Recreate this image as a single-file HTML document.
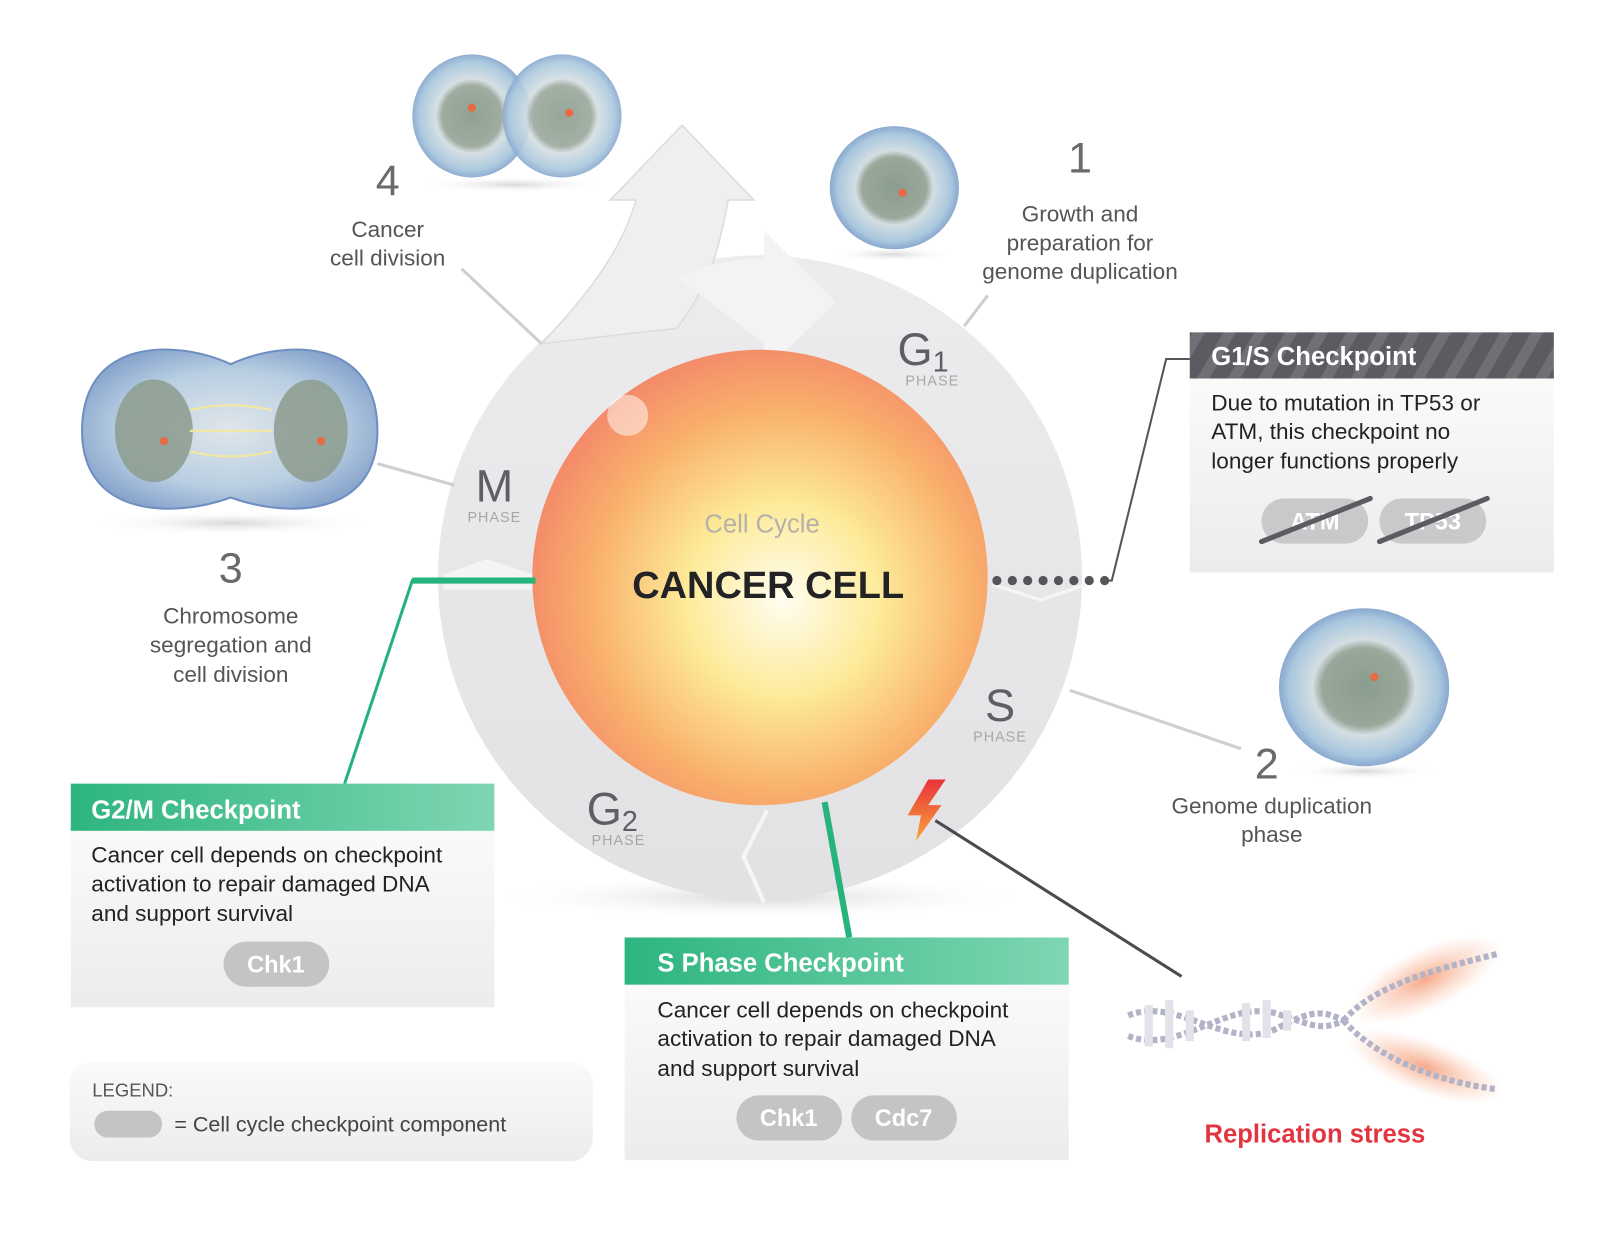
<!DOCTYPE html>
<html><head><meta charset="utf-8"><style>
html,body{margin:0;padding:0;background:#fff}
svg{display:block}
text{font-family:"Liberation Sans",sans-serif}
</style></head><body>
<svg width="1600" height="1237" viewBox="0 0 1560 1206" xmlns="http://www.w3.org/2000/svg">
<defs>
<radialGradient id="sph" cx="0.55" cy="0.55" r="0.6">
<stop offset="0" stop-color="#fffdf0"/><stop offset="0.35" stop-color="#fdeb9a"/><stop offset="0.7" stop-color="#f9b06c"/><stop offset="1" stop-color="#f28268"/></radialGradient>
<radialGradient id="cell" cx="0.5" cy="0.5" r="0.55">
<stop offset="0" stop-color="#8a9d8e"/><stop offset="0.45" stop-color="#9aa79b"/><stop offset="0.55" stop-color="#d4dee2"/><stop offset="0.8" stop-color="#a9c7de"/><stop offset="1" stop-color="#6f8fc1"/></radialGradient>
<radialGradient id="cell3" cx="0.5" cy="0.5" r="0.6">
<stop offset="0" stop-color="#e0e6ea"/><stop offset="0.6" stop-color="#b9cfe2"/><stop offset="1" stop-color="#7f9dc9"/></radialGradient>
<linearGradient id="ring" x1="0" y1="0" x2="0" y2="1"><stop offset="0" stop-color="#ececee"/><stop offset="1" stop-color="#e2e2e4"/></linearGradient>
<linearGradient id="grn" x1="0" x2="1"><stop offset="0" stop-color="#2db57f"/><stop offset="1" stop-color="#7fd6b2"/></linearGradient>
<linearGradient id="body" x1="0" y1="0" x2="0" y2="1"><stop offset="0" stop-color="#fafafa"/><stop offset="1" stop-color="#ececec"/></linearGradient>
<linearGradient id="bolt" x1="0" y1="0" x2="0" y2="1"><stop offset="0" stop-color="#e8333a"/><stop offset="1" stop-color="#f9a53a"/></linearGradient>
<pattern id="str" width="30" height="45" patternUnits="userSpaceOnUse" patternTransform="skewX(-30)"><rect width="30" height="45" fill="#5b5c61"/><rect width="12" height="45" fill="#6f7075"/></pattern>
<radialGradient id="glow" cx="0.5" cy="0.5" r="0.5"><stop offset="0" stop-color="#f07040" stop-opacity="0.6"/><stop offset="1" stop-color="#f8a070" stop-opacity="0"/></radialGradient>
<radialGradient id="sh" cx="0.5" cy="0.5" r="0.5"><stop offset="0" stop-color="#d8d8d8"/><stop offset="1" stop-color="#fff" stop-opacity="0"/></radialGradient>
</defs>

<ellipse cx="741" cy="875" rx="270" ry="22" fill="url(#sh)"/>
<circle cx="741" cy="563" r="314" fill="url(#ring)"/>
<path d="M528,335 C590,270 610,230 620,195 L595,195 L665,122 L735,195 L710,195 C700,250 690,280 660,320 Z" fill="#efeff1" stroke="#dcdcde" stroke-width="1.5"/>
<path d="M660,270 Q700,252 745,252 L745,225 L815,295 L745,362 L745,335 Z" fill="#f3f3f5"/>
<path d="M432,560 L475,545 L520,560 L520,575 L432,575Z" fill="#f4f4f6"/>
<path d="M968,570 L1015,585 L1058,570" fill="none" stroke="#f6f6f6" stroke-width="3"/>
<path d="M748,790 L725,835 L745,880" fill="none" stroke="#f6f6f6" stroke-width="4"/>
<circle cx="741" cy="563" r="222" fill="url(#sph)"/>
<circle cx="612" cy="405" r="20" fill="#fff" opacity="0.5"/>
<text x="743" y="519" font-size="25" fill="#b5b0aa" text-anchor="middle">Cell Cycle</text>
<text x="749" y="583" font-size="37" font-weight="bold" fill="#232326" text-anchor="middle">CANCER CELL</text>

<g fill="#5f5f63" text-anchor="middle">
<text x="900" y="356" font-size="44">G<tspan font-size="28" dy="6">1</tspan></text>
<text x="909" y="376" font-size="14" fill="#a7a7aa" letter-spacing="1">PHASE</text>
<text x="482" y="489" font-size="44">M</text>
<text x="482" y="509" font-size="14" fill="#a7a7aa" letter-spacing="1">PHASE</text>
<text x="975" y="703" font-size="44">S</text>
<text x="975" y="723" font-size="14" fill="#a7a7aa" letter-spacing="1">PHASE</text>
<text x="597" y="804" font-size="44">G<tspan font-size="28" dy="6">2</tspan></text>
<text x="603" y="824" font-size="14" fill="#a7a7aa" letter-spacing="1">PHASE</text>
</g>

<g stroke="#cfcfd1" stroke-width="3">
<line x1="450" y1="262" x2="528" y2="335"/>
<line x1="368" y1="452" x2="443" y2="473"/>
<line x1="963" y1="288" x2="940" y2="318"/>
<line x1="1043" y1="673" x2="1210" y2="730"/>
</g>

<ellipse cx="500" cy="180" rx="90" ry="8" fill="url(#sh)"/>
<ellipse cx="460" cy="113" rx="58" ry="60" fill="url(#cell)" opacity="0.95"/>
<ellipse cx="548" cy="113" rx="58" ry="60" fill="url(#cell)" opacity="0.9"/>
<ellipse cx="870" cy="248" rx="60" ry="7" fill="url(#sh)"/>
<ellipse cx="872" cy="183" rx="63" ry="60" fill="url(#cell)"/>
<ellipse cx="225" cy="510" rx="140" ry="12" fill="url(#sh)"/>
<path d="M80,420 C80,330 170,330 225,355 C280,330 368,330 368,420 C368,505 280,505 225,485 C170,505 80,505 80,420Z" fill="url(#cell3)" stroke="#6f8fc1" stroke-width="2"/>
<ellipse cx="150" cy="420" rx="38" ry="50" fill="#8f9f92" opacity="0.9"/>
<ellipse cx="303" cy="420" rx="36" ry="50" fill="#8f9f92" opacity="0.9"/>
<path d="M185,400 Q225,390 265,400 M185,420 L265,420 M185,440 Q225,450 265,440" stroke="#f3e8a0" stroke-width="2" fill="none"/>
<ellipse cx="1330" cy="752" rx="75" ry="8" fill="url(#sh)"/>
<ellipse cx="1330" cy="670" rx="83" ry="77" fill="url(#cell)"/>
<g fill="#e76a45"><circle cx="460" cy="105" r="4"/><circle cx="555" cy="110" r="4"/><circle cx="880" cy="188" r="4"/><circle cx="1340" cy="660" r="4"/><circle cx="160" cy="430" r="4"/><circle cx="313" cy="430" r="4"/></g>

<g fill="#555558" text-anchor="middle" font-size="22">
<text x="378" y="190" font-size="42" fill="#6a6a6d">4</text>
<text x="378" y="231">Cancer</text><text x="378" y="259">cell division</text>
<text x="1053" y="168" font-size="42" fill="#6a6a6d">1</text>
<text x="1053" y="216">Growth and</text><text x="1053" y="244">preparation for</text><text x="1053" y="272">genome duplication</text>
<text x="225" y="568" font-size="42" fill="#6a6a6d">3</text>
<text x="225" y="608">Chromosome</text><text x="225" y="636">segregation and</text><text x="225" y="665">cell division</text>
<text x="1235" y="759" font-size="42" fill="#6a6a6d">2</text>
<text x="1240" y="793">Genome duplication</text><text x="1240" y="821">phase</text>
</g>

<line x1="972" y1="566" x2="1078" y2="566" stroke="#55565a" stroke-width="9" stroke-linecap="round" stroke-dasharray="0 15"/>
<polyline points="1078,566 1084,566 1137,350 1160,350" fill="none" stroke="#55565a" stroke-width="2"/>

<rect x="1160" y="369" width="355" height="189" fill="url(#body)"/>
<rect x="1160" y="324" width="355" height="45" fill="url(#str)"/>
<text x="1181" y="356" font-size="25" font-weight="bold" fill="#fff">G1/S Checkpoint</text>
<g font-size="22" fill="#222">
<text x="1181" y="400">Due to mutation in TP53 or</text>
<text x="1181" y="428">ATM, this checkpoint no</text>
<text x="1181" y="457">longer functions properly</text></g>
<rect x="1230" y="486" width="104" height="44" rx="22" fill="#c9c9cb"/>
<rect x="1345" y="486" width="104" height="44" rx="22" fill="#c9c9cb"/>
<text x="1282" y="516" font-size="23" fill="#fff" text-anchor="middle" font-weight="bold">ATM</text>
<text x="1397" y="516" font-size="23" fill="#fff" text-anchor="middle" font-weight="bold">TP53</text>
<line x1="1230" y1="528" x2="1336" y2="486" stroke="#5b5c61" stroke-width="5" stroke-linecap="round"/>
<line x1="1345" y1="528" x2="1450" y2="486" stroke="#5b5c61" stroke-width="5" stroke-linecap="round"/>

<polyline points="522,566 402,566 336,764" fill="none" stroke="#27b37c" stroke-width="3"/>
<line x1="522" y1="566" x2="402" y2="566" stroke="#27b37c" stroke-width="6"/>
<line x1="804" y1="782" x2="828" y2="914" stroke="#27b37c" stroke-width="6"/>

<rect x="69" y="810" width="413" height="172" fill="url(#body)"/>
<rect x="69" y="764" width="413" height="46" fill="url(#grn)"/>
<text x="89" y="798" font-size="25" font-weight="bold" fill="#fff">G2/M Checkpoint</text>
<g font-size="22" fill="#222">
<text x="89" y="841">Cancer cell depends on checkpoint</text>
<text x="89" y="869">activation to repair damaged DNA</text>
<text x="89" y="898">and support survival</text></g>
<rect x="218" y="918" width="103" height="44" rx="22" fill="#c4c4c6"/>
<text x="269" y="948" font-size="23" fill="#fff" text-anchor="middle" font-weight="bold">Chk1</text>

<rect x="609" y="960" width="433" height="171" fill="url(#body)"/>
<rect x="609" y="914" width="433" height="46" fill="url(#grn)"/>
<text x="641" y="947" font-size="25" font-weight="bold" fill="#fff">S Phase Checkpoint</text>
<g font-size="22" fill="#222">
<text x="641" y="992">Cancer cell depends on checkpoint</text>
<text x="641" y="1020">activation to repair damaged DNA</text>
<text x="641" y="1049">and support survival</text></g>
<rect x="718" y="1068" width="103" height="44" rx="22" fill="#c4c4c6"/>
<rect x="830" y="1068" width="103" height="44" rx="22" fill="#c4c4c6"/>
<text x="769" y="1098" font-size="23" fill="#fff" text-anchor="middle" font-weight="bold">Chk1</text>
<text x="881" y="1098" font-size="23" fill="#fff" text-anchor="middle" font-weight="bold">Cdc7</text>

<rect x="68" y="1035" width="510" height="97" rx="22" fill="url(#body)"/>
<text x="90" y="1069" font-size="18" fill="#555">LEGEND:</text>
<rect x="92" y="1083" width="66" height="26" rx="13" fill="#c4c4c6"/>
<text x="170" y="1103" font-size="21" fill="#444">= Cell cycle checkpoint component</text>

<line x1="912" y1="800" x2="1152" y2="952" stroke="#4a4b4f" stroke-width="3"/>
<path d="M905,760 L922,760 L905,785 L918,785 L893,820 L898,795 L885,795 Z" fill="url(#bolt)"/>

<ellipse cx="1390" cy="955" rx="80" ry="30" fill="url(#glow)" transform="rotate(-25 1390 955)"/>
<ellipse cx="1390" cy="1040" rx="80" ry="26" fill="url(#glow)" transform="rotate(20 1390 1040)"/>
<g fill="none" stroke="#b3b3c8" stroke-width="6" stroke-dasharray="5 3">
<path d="M1100,990 C1150,970 1200,1030 1250,1000 C1280,985 1290,985 1310,995"/>
<path d="M1100,1010 C1150,1030 1200,970 1250,990 C1280,1000 1290,1005 1310,995"/>
<path d="M1310,995 C1340,960 1400,945 1460,930"/>
<path d="M1310,995 C1340,1030 1400,1055 1460,1062"/>
</g>
<g stroke="#e2e2ea" stroke-width="8"><line x1="1120" y1="980" x2="1120" y2="1020"/><line x1="1140" y1="975" x2="1140" y2="1022"/><line x1="1160" y1="985" x2="1160" y2="1015"/><line x1="1215" y1="978" x2="1215" y2="1015"/><line x1="1235" y1="975" x2="1235" y2="1012"/><line x1="1255" y1="985" x2="1255" y2="1005"/></g>
<text x="1282" y="1114" font-size="25" font-weight="bold" fill="#e33541" text-anchor="middle">Replication stress</text>
</svg>
</body></html>
